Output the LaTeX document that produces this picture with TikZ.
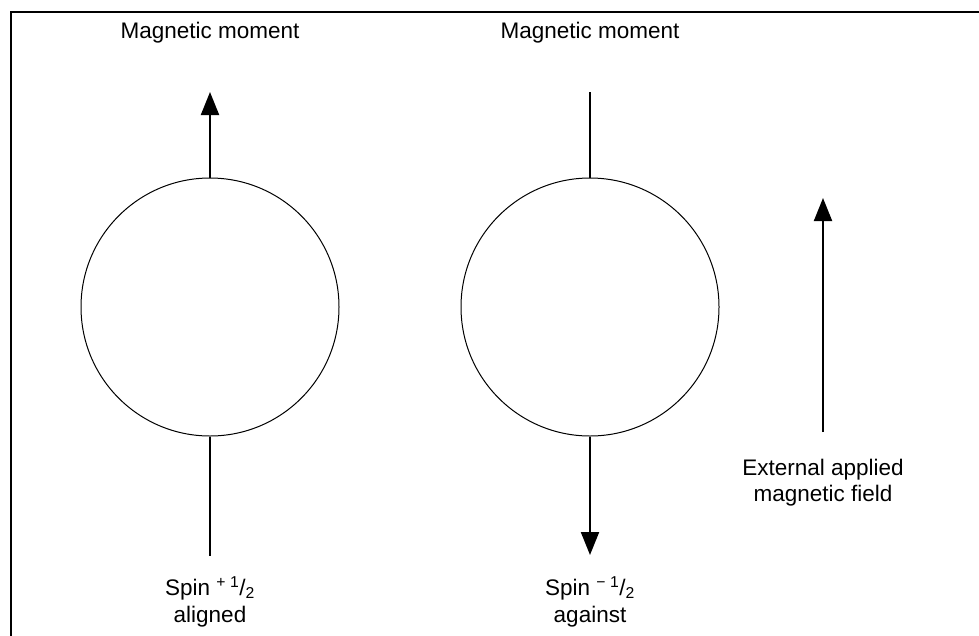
\documentclass[tikz,border=0pt]{standalone}
\usepackage{fontspec}
\setmainfont{Liberation Sans}
\usetikzlibrary{arrows.meta}
\begin{document}
\begin{tikzpicture}[x=1pt,y=-1pt,
  lbl/.style={font=\fontsize{22.5}{27}\selectfont, inner sep=0pt, align=center, anchor=base},
  spinball/.style={circle, draw, line width=1pt, minimum size=258pt, inner sep=0pt},
  vec/.style={line width=2pt, -{Triangle[width=18pt,length=23pt]}},
  stem/.style={line width=2pt}]
\useasboundingbox (0,0) rectangle (979,635);
\draw[line width=2pt] (11,700) -- (11,12) -- (1000,12);
% left
\node[spinball] (c1) at (210,307) {};
\coordinate (t1) at (210,92);
\coordinate (b1) at (210,556);
\draw[vec] (c1.north) -- (t1);
\draw[stem] (c1.south) -- (b1);
\node[lbl] (m1) at (210,38) {Magnetic moment};
\node[lbl] (s1) at (210,595) {Spin \textsuperscript{+ 1}/\textsubscript{2}};
\node[lbl] (a1) at (210,622) {aligned};
% middle
\node[spinball] (c2) at (590,307) {};
\coordinate (t2) at (590,92);
\coordinate (b2) at (590,555);
\draw[stem] (t2) -- (c2.north);
\draw[vec] (c2.south) -- (b2);
\node[lbl] (m2) at (590,38) {Magnetic moment};
\node[lbl] (s2) at (590,595) {Spin \textsuperscript{− 1}/\textsubscript{2}};
\node[lbl] (a2) at (590,622) {against};
% field
\coordinate (f0) at (823,432);
\coordinate (f1) at (823,198);
\draw[vec] (f0) -- (f1);
\node[lbl] (e1) at (823,475) {External applied};
\node[lbl] (e2) at (823,501) {magnetic field};
\end{tikzpicture}
\end{document}
